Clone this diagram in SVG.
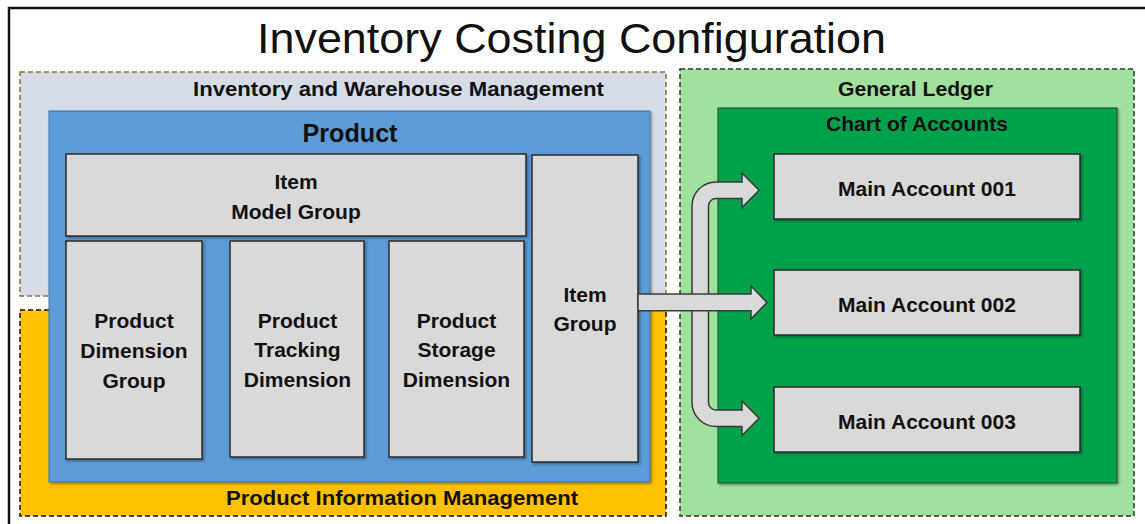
<svg xmlns="http://www.w3.org/2000/svg" width="1145" height="524" viewBox="0 0 1145 524">
<defs>
<filter id="sh" x="-10%" y="-10%" width="130%" height="130%">
<feDropShadow dx="1.5" dy="1.5" stdDeviation="1.2" flood-color="#000" flood-opacity="0.35"/>
</filter>
<style>
text{font-family:"Liberation Sans",Arial,sans-serif;font-weight:bold;fill:#111;text-anchor:middle}
.title{font-weight:normal;font-size:42px}
.hdr{font-size:21px}
.lbl{font-size:21px}
.acct{font-size:21px}
.box{fill:#d9d9d9;stroke:#2b2b2b;stroke-width:1.5;filter:url(#sh)}
.arrow{fill:#d9d9d9;stroke:#3a3a3a;stroke-width:1.5;stroke-linejoin:miter}
</style>
</defs>
<rect width="1145" height="524" fill="#ffffff"/>
<path d="M9,524 V8 H1145" fill="none" stroke="#111" stroke-width="2.5"/>
<text class="title" x="571.5" y="53" textLength="629" lengthAdjust="spacingAndGlyphs">Inventory Costing Configuration</text>

<g id="inventory-warehouse-management">
<rect x="20" y="72" width="646" height="224" fill="#d6dce5" stroke="#8a7436" stroke-width="1.5" stroke-dasharray="5,3"/>
<text class="hdr" x="398.5" y="96" textLength="411" lengthAdjust="spacingAndGlyphs">Inventory and Warehouse Management</text>
</g>
<g id="product-information-management">
<rect x="20" y="310" width="646" height="206" fill="#ffc000" stroke="#111" stroke-width="1.5" stroke-dasharray="5,3"/>
<text class="hdr" x="402" y="505" textLength="352" lengthAdjust="spacingAndGlyphs">Product Information Management</text>
</g>
<g id="general-ledger">
<rect x="680" y="69" width="454" height="447" fill="#a1e19e" stroke="#333" stroke-width="1.5" stroke-dasharray="5,3"/>
<text class="hdr" x="915.5" y="96" textLength="155" lengthAdjust="spacingAndGlyphs">General Ledger</text>
</g>
<g id="chart-of-accounts">
<rect x="718" y="108" width="399" height="375" fill="#00a14b" stroke="#1f5a33" stroke-width="1.2" filter="url(#sh)"/>
<text class="hdr" x="917" y="131" textLength="182" lengthAdjust="spacingAndGlyphs">Chart of Accounts</text>
</g>
<g id="product">
<rect x="49" y="111" width="601" height="371" fill="#5b9bd5" stroke="#41719c" stroke-width="1" filter="url(#sh)"/>
<text x="350" y="142" style="font-size:25px" textLength="95" lengthAdjust="spacingAndGlyphs">Product</text>
</g>
<g id="item-model-group">
<rect class="box" x="66" y="154" width="460" height="82"/>
<text class="lbl" x="296" y="189">Item</text>
<text class="lbl" x="296" y="219">Model Group</text>
</g>
<g id="product-dimension-group">
<rect class="box" x="66" y="241" width="136" height="218"/>
<text class="lbl" x="134" y="328">Product</text>
<text class="lbl" x="134" y="358">Dimension</text>
<text class="lbl" x="134" y="387.5">Group</text>
</g>
<g id="product-tracking-dimension">
<rect class="box" x="230" y="241" width="134" height="216"/>
<text class="lbl" x="297.5" y="327.5">Product</text>
<text class="lbl" x="297.5" y="357">Tracking</text>
<text class="lbl" x="297.5" y="386.5">Dimension</text>
</g>
<g id="product-storage-dimension">
<rect class="box" x="389" y="241" width="135" height="216"/>
<text class="lbl" x="456.5" y="327.5">Product</text>
<text class="lbl" x="456.5" y="357">Storage</text>
<text class="lbl" x="456.5" y="386.5">Dimension</text>
</g>
<g id="item-group">
<rect class="box" x="532" y="155" width="106" height="307"/>
<text class="lbl" x="585" y="302">Item</text>
<text class="lbl" x="585" y="331">Group</text>
</g>
<g id="main-account-001">
<rect class="box" x="774" y="154" width="306" height="65"/>
<text class="acct" x="927" y="196">Main Account 001</text>
</g>
<g id="main-account-002">
<rect class="box" x="774" y="270" width="306" height="65"/>
<text class="acct" x="927" y="312">Main Account 002</text>
</g>
<g id="main-account-003">
<rect class="box" x="774" y="387" width="306" height="65"/>
<text class="acct" x="927" y="429">Main Account 003</text>
</g>

<g id="connectors">
<path class="arrow" d="M742,182 L742,173 L759,190.25 L742,207.5 L742,198.5 L716,198.5 A7.5,7.5 0 0 0 708.5,206 L708.5,402.5 A7.5,7.5 0 0 0 716,410 L742,410 L742,401 L759,418.25 L742,435.5 L742,426.5 L716,426.5 A24,24 0 0 1 692,402.5 L692,206 A24,24 0 0 1 716,182 Z"/>
<path class="arrow" d="M638,294 L751,294 L751,286 L767,302.5 L751,319 L751,310.7 L638,310.7 Z"/>
</g>
</svg>
